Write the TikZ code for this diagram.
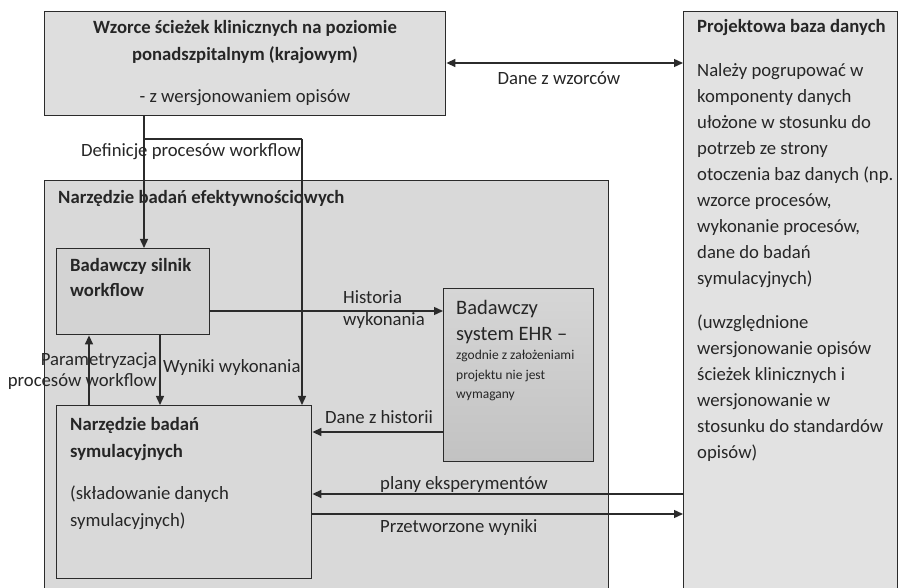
\documentclass[tikz,border=0pt]{standalone}
\usepackage{fontspec}
\setmainfont{Carlito}
\usetikzlibrary{arrows.meta}
\definecolor{edge}{HTML}{2B2B2B}
\definecolor{fillA}{HTML}{DEDEDE}
\definecolor{fillB}{HTML}{E2E2E2}
\definecolor{fillC}{HTML}{D9D9D9}
\definecolor{fillD}{HTML}{D3D3D3}
\definecolor{ehrtop}{HTML}{D6D6D6}
\definecolor{ehrbot}{HTML}{C2C2C2}
\tikzset{
  box/.style={draw=edge, line width=1.4pt, rectangle, inner sep=0pt, anchor=north west},
  txt/.style={inner sep=0pt, font=\fontsize{18.7}{26}\selectfont, text=black!85},
  btxt/.style={txt, font=\fontsize{18.7}{26}\selectfont\bfseries},
  ltxt/.style={inner sep=0pt, font=\fontsize{20.5}{26}\selectfont, text=black!85},
  stxt/.style={inner sep=0pt, font=\fontsize{13.5}{19.5}\selectfont, text=black!85},
  arr/.style={draw=edge, line width=1.4pt, -{Triangle[length=9pt,width=8pt]}},
  dbl/.style={draw=edge, line width=1.4pt, {Triangle[length=9pt,width=8pt]}-{Triangle[length=9pt,width=8pt]}},
  ln/.style={draw=edge, line width=1.4pt}
}
\begin{document}
\begin{tikzpicture}[x=1pt,y=-1pt]
\useasboundingbox[fill=white] (0,0) rectangle (898,588);

% boxes
\node[box, fill=fillB, minimum width=214, minimum height=600] (proj) at (683,11) {};
\node[box, fill=fillC, minimum width=564, minimum height=430] (eff) at (44,180) {};
\node[box, fill=fillA, minimum width=401, minimum height=104] (wz) at (44,11) {};
\node[box, fill=fillD, minimum width=153, minimum height=86] (silnik) at (56,248) {};
\node[box, top color=ehrtop, bottom color=ehrbot, minimum width=150, minimum height=173] (ehr) at (443,288) {};
\node[box, fill=fillC, minimum width=255, minimum height=173] (sim) at (56,405) {};

% texts in boxes
\node[btxt, anchor=base] (wzt1) at (245,34) {Wzorce ścieżek klinicznych na poziomie};
\node[btxt, anchor=base] (wzt2) at (245,61) {ponadszpitalnym (krajowym)};
\node[txt, anchor=base] (wzt3) at (245,103) {- z wersjonowaniem opisów};

\node[btxt, anchor=base west] (pt1) at (697,33) {Projektowa baza danych};
\node[txt, anchor=north west, align=left] (pt2) at (697,63) {Należy pogrupować w\\komponenty danych\\ułożone w stosunku do\\potrzeb ze strony\\otoczenia baz danych (np.\\wzorce procesów,\\wykonanie procesów,\\dane do badań\\symulacyjnych)};
\node[txt, anchor=north west, align=left] (pt3) at (697,315) {(uwzględnione\\wersjonowanie opisów\\ścieżek klinicznych i\\wersjonowanie w\\stosunku do standardów\\opisów)};

\node[btxt, anchor=base west] (efft) at (58,204) {Narzędzie badań efektywnościowych};
\node[btxt, anchor=base west] (st1) at (70,272) {Badawczy silnik};
\node[btxt, anchor=base west] (st2) at (70,297) {workflow};

\node[ltxt, anchor=base west] (et1) at (456,315) {Badawczy};
\node[ltxt, anchor=base west] (et2) at (456,341) {system EHR –};
\node[stxt, anchor=north west, align=left] (et3) at (456,350) {zgodnie z założeniami\\projektu nie jest\\wymagany};

\node[btxt, anchor=base west] (smt1) at (70,431) {Narzędzie badań};
\node[btxt, anchor=base west] (smt2) at (70,457) {symulacyjnych};
\node[txt, anchor=base west] (smt3) at (70,499) {(składowanie danych};
\node[txt, anchor=base west] (smt4) at (70,526) {symulacyjnych)};

% connectors
\draw[dbl] (wz.east |- 0,63) -- (proj.west |- 0,63);
\coordinate (split) at (144,139);
\coordinate (down) at (302,139);
\draw[arr] (wz.south -| split) -- (silnik.north -| split);
\draw[ln] (split) -- (down);
\draw[arr] (down) -- (sim.north -| down);
\draw[arr] (silnik.east |- 0,311) -- (ehr.west |- 0,311);
\draw[arr] (sim.north -| 89,0) -- (silnik.south -| 89,0);
\draw[arr] (silnik.south -| 160,0) -- (sim.north -| 160,0);
\draw[arr] (ehr.west |- 0,432) -- (sim.east |- 0,432);
\draw[arr] (proj.west |- 0,494) -- (sim.east |- 0,494);
\draw[arr] (sim.east |- 0,514) -- (proj.west |- 0,514);

% connector labels
\node[txt, anchor=base] (l1) at (559,85) {Dane z wzorców};
\node[txt, anchor=base west] (l2) at (81,157) {Definicje procesów workflow};
\node[txt, anchor=base west] (l3) at (343,304) {Historia};
\node[txt, anchor=base west] (l4) at (343,326) {wykonania};
\node[txt, anchor=base east] (l5) at (157,366) {Parametryzacja};
\node[txt, anchor=base east] (l6) at (157,387) {procesów workflow};
\node[txt, anchor=base west] (l7) at (163,373) {Wyniki wykonania};
\node[txt, anchor=base west] (l8) at (325,424) {Dane z historii};
\node[txt, anchor=base west] (l9) at (380,489) {plany eksperymentów};
\node[txt, anchor=base west] (l10) at (380,532) {Przetworzone wyniki};
\end{tikzpicture}
\end{document}
